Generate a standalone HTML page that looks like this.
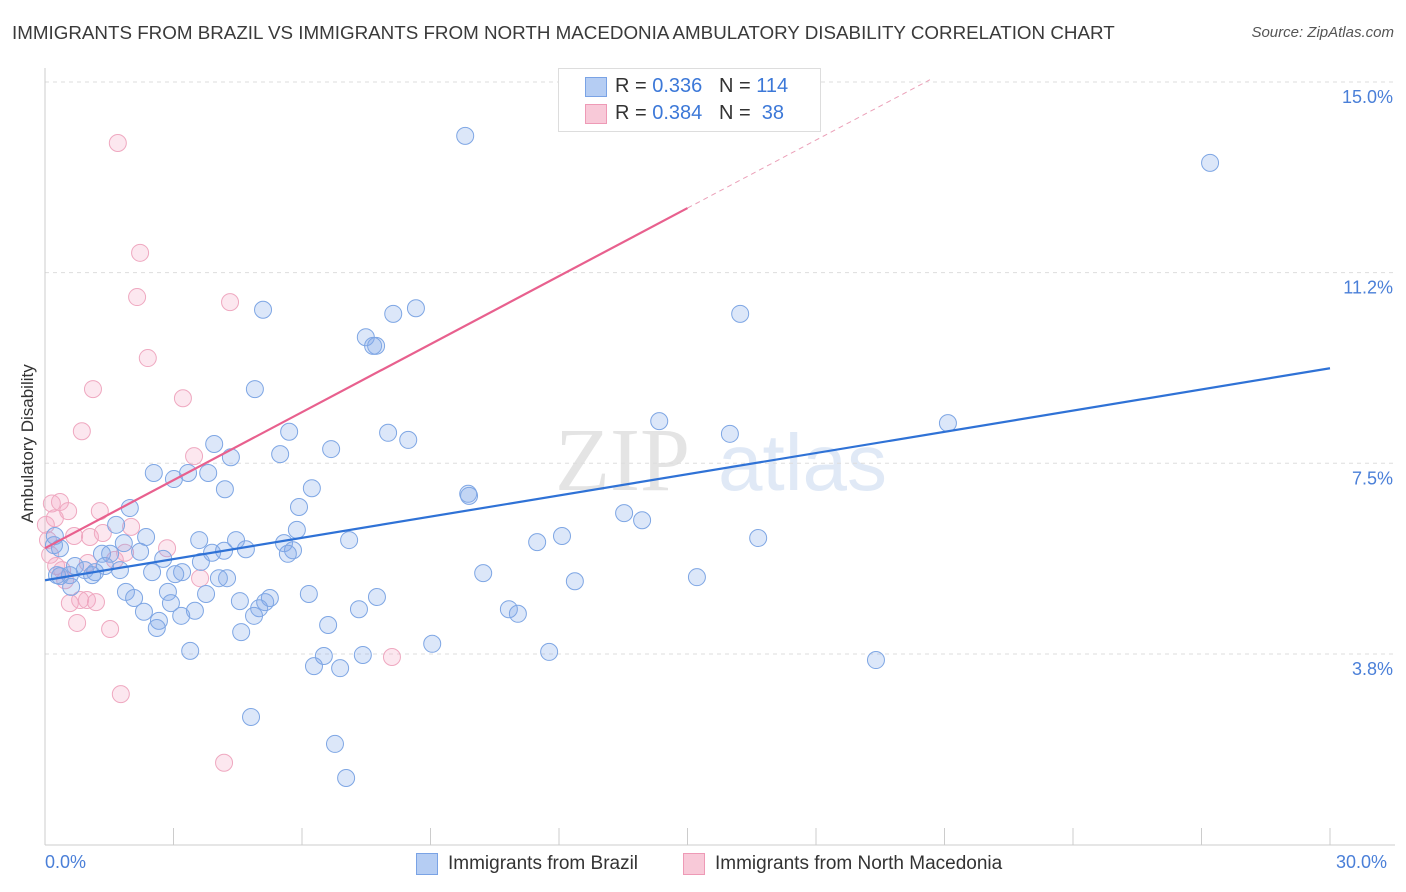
<!DOCTYPE html>
<html><head><meta charset="utf-8"><style>
body{margin:0;background:#fff;font-family:"Liberation Sans",sans-serif;}
#wrap{position:relative;width:1406px;height:892px;overflow:hidden;}
.t{position:absolute;white-space:nowrap;}
</style></head><body>
<div id="wrap">
<div class="t" style="left:12px;top:22px;font-size:18.8px;color:#3a3a3a;">IMMIGRANTS FROM BRAZIL VS IMMIGRANTS FROM NORTH MACEDONIA AMBULATORY DISABILITY CORRELATION CHART</div>
<div class="t" style="right:12px;top:24px;font-size:15px;color:#555;font-style:italic;">Source: ZipAtlas.com</div>
<div class="t" style="left:-40px;top:445px;font-size:17px;color:#333;transform:rotate(-90deg);width:136px;text-align:center;">Ambulatory Disability</div>
<svg id="plot" width="1406" height="892" style="position:absolute;left:0;top:0"></svg>
<div class="t" style="left:45px;top:852px;font-size:18px;color:#4a7fd8;">0.0%</div>
<div class="t" style="left:1336px;top:852px;font-size:18px;color:#4a7fd8;">30.0%</div>
<div style="position:absolute;left:558px;top:68px;width:261px;height:62px;border:1px solid #ddd;background:#fff;">
 <div style="position:absolute;left:26px;top:8px;width:20px;height:18px;background:#b5cdf3;border:1px solid #7aa3e5;"></div>
 <div class="t" style="left:56px;top:6px;font-size:20px;color:#333;">R = <span style="color:#3c78d8">0.336</span>&nbsp;&nbsp;&nbsp;N = <span style="color:#3c78d8">114</span></div>
 <div style="position:absolute;left:26px;top:35px;width:20px;height:18px;background:#f8c9d8;border:1px solid #ee9ab6;"></div>
 <div class="t" style="left:56px;top:33px;font-size:20px;color:#333;">R = <span style="color:#3c78d8">0.384</span>&nbsp;&nbsp;&nbsp;N = <span style="color:#3c78d8">&nbsp;38</span></div>
</div>
<div style="position:absolute;left:416px;top:853px;">
 <div style="position:absolute;left:0;top:0;width:20px;height:20px;background:#b5cdf3;border:1px solid #7aa3e5;"></div>
 <div class="t" style="left:32px;top:0px;font-size:19px;color:#333;">Immigrants from Brazil</div></div>
<div style="position:absolute;left:683px;top:853px;">
 <div style="position:absolute;left:0;top:0;width:20px;height:20px;background:#f8c9d8;border:1px solid #ee9ab6;"></div>
 <div class="t" style="left:32px;top:0px;font-size:19px;color:#333;">Immigrants from North Macedonia</div></div>
</div>
<script>
const yTicks=[3.75,7.5,11.25,15];
const yTickLabels=["3.8%","7.5%","11.2%","15.0%"];
const blueX=[9.81,27.20,5.09,8.66,8.13,16.23,7.49,7.73,7.66,4.90,14.34,21.08,5.70,8.01,8.48,15.99,3.95,6.68,5.49,4.34,2.54,3.34,3.81,3.01,4.20,6.23,9.88,9.90,5.93,1.98,13.52,13.94,1.66,5.88,2.36,12.07,11.49,7.10,16.65,4.46,3.60,1.84,5.58,5.79,5.67,4.69,4.18,3.90,2.22,1.52,1.33,2.76,3.64,0.21,0.35,0.23,0.70,0.93,1.17,1.40,1.75,1.10,0.58,0.35,0.28,3.20,2.50,3.04,4.25,4.06,10.23,12.37,15.22,1.89,2.08,2.87,3.76,6.16,7.75,4.55,5.25,5.14,5.00,2.94,2.31,3.50,3.18,2.66,2.61,4.88,10.83,11.04,7.33,6.61,4.58,3.39,9.04,11.77,19.40,6.51,7.42,6.28,6.89,4.81,6.77,7.03,0.61];
const blueY=[13.94,13.41,10.52,10.55,10.44,10.44,9.98,9.81,9.81,8.96,8.33,8.29,8.12,8.10,7.96,8.08,7.88,7.78,7.68,7.62,7.31,7.31,7.31,7.19,6.99,7.01,6.90,6.86,6.64,6.62,6.52,6.38,6.29,6.19,6.05,6.07,5.95,5.99,6.03,5.99,5.99,5.93,5.93,5.79,5.72,5.81,5.78,5.74,5.76,5.72,5.72,5.62,5.56,5.89,5.83,6.07,5.48,5.40,5.36,5.48,5.40,5.30,5.30,5.28,5.30,5.36,5.36,5.32,5.24,5.24,5.34,5.18,5.26,4.97,4.85,4.97,4.93,4.93,4.87,4.79,4.85,4.77,4.65,4.75,4.58,4.60,4.50,4.40,4.26,4.50,4.63,4.54,4.63,4.32,4.18,3.81,3.95,3.79,3.63,3.71,3.73,3.51,3.47,2.51,1.98,1.31,5.07];
const pinkX=[1.70,2.22,2.15,4.32,2.40,1.12,3.22,0.86,3.48,0.16,0.35,0.54,0.23,1.28,0.02,0.68,1.05,2.01,1.35,2.85,1.87,0.26,0.40,1.00,3.62,0.58,0.82,0.98,1.19,0.75,1.52,8.10,1.77,4.18,0.07,0.12,0.47,1.63];
const pinkY=[13.80,11.64,10.77,10.67,9.57,8.96,8.78,8.13,7.64,6.71,6.74,6.56,6.42,6.56,6.29,6.07,6.05,6.25,6.13,5.83,5.74,5.48,5.40,5.54,5.24,4.75,4.81,4.81,4.77,4.36,4.24,3.69,2.96,1.61,5.99,5.70,5.20,5.60];
const blueTrend=[5.20,9.37];   // y at x=0 and x=30
const pinkTrend=[5.83,12.52];  // y at x=0 and x=15
const X0=45,X1=1330,Ytop=82,Ybot=845;
const sx=v=>X0+v/30*(X1-X0);
const sy=v=>Ytop+(15-v)*50.84;
const svg=document.getElementById('plot');
const NS='http://www.w3.org/2000/svg';
function mk(tag,attrs){const e=document.createElementNS(NS,tag);for(const k in attrs)e.setAttribute(k,attrs[k]);svg.appendChild(e);return e;}
let wm=mk('text',{x:555,y:490,'font-size':90,'font-family':'Liberation Serif, serif',fill:'#e4e4e4'});wm.textContent='ZIP';


let wm2=mk('text',{x:718,y:490,'font-size':80,'font-family':'Liberation Sans, sans-serif',fill:'#e0e9f6'});wm2.textContent='atlas';


yTicks.forEach((v,i)=>{
 const l=mk('line',{x1:X0,x2:1395,y1:sy(v),y2:sy(v),stroke:'#ddd','stroke-dasharray':'4,4'});
 
 
 const t=mk('text',{x:1393,y:sy(v)+21,'text-anchor':'end','font-size':18,fill:'#4a7fd8','font-family':'Liberation Sans, sans-serif'});
 t.textContent=yTickLabels[i];
 
 
});
const ax=mk('line',{x1:X0,x2:X0,y1:68,y2:Ybot,stroke:'#ccc'});


const bx=mk('line',{x1:X0,x2:1395,y1:Ybot,y2:Ybot,stroke:'#ccc'});


for(let k=1;k<=10;k++){const tk=mk('line',{x1:sx(k*3),x2:sx(k*3),y1:828,y2:Ybot,stroke:'#ccc'});
 
 }
function pts(xs,ys,fill,stroke,name){xs.forEach((x,i)=>{const c=mk('circle',{cx:sx(x),cy:sy(ys[i]),r:8.5,fill:fill,stroke:stroke,'stroke-width':1});
 
 });}
pts(pinkX,pinkY,'rgba(244,170,196,0.28)','#efa8c0','point-north-macedonia');
pts(blueX,blueY,'rgba(130,170,235,0.28)','#7ea6e4','point-brazil');
const bl=mk('line',{x1:sx(0),y1:sy(blueTrend[0]),x2:sx(30),y2:sy(blueTrend[1]),stroke:'#2f72d6','stroke-width':2.2});


const ps=(pinkTrend[1]-pinkTrend[0])/15;
const pl=mk('line',{x1:sx(0),y1:sy(pinkTrend[0]),x2:sx(15),y2:sy(pinkTrend[1]),stroke:'#e8608e','stroke-width':2.2});


const xe=20.66;
const pd=mk('line',{x1:sx(15),y1:sy(pinkTrend[1]),x2:sx(xe),y2:sy(pinkTrend[0]+ps*xe),stroke:'#eba0b8','stroke-width':1,'stroke-dasharray':'5,4'});


</script>
</body></html>
